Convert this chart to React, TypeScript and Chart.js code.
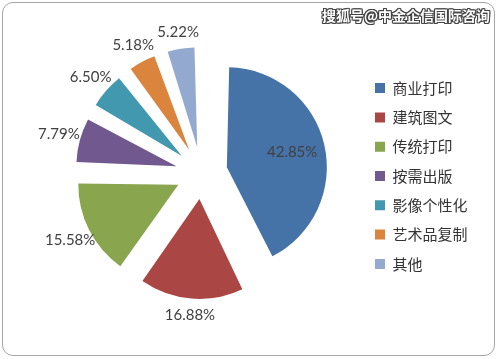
import React, { useEffect, useRef } from "react";
import { Chart, registerables } from "chart.js";

Chart.register(...registerables);

const categories = ["商业打印", "建筑图文", "传统打印", "按需出版", "影像个性化", "艺术品复制", "其他"];
const shares = [42.85, 16.88, 15.58, 7.79, 6.5, 5.18, 5.22];
const colors = ["#4572A7", "#AA4643", "#89A54E", "#71588F", "#4198AF", "#DB843D", "#93A9CF"];
const watermark = "搜狐号@中金企信国际咨询";

const EXPLODE = 26; // px each slice is pulled out
const RADIUS = 100; // drawn slice radius

// Chart.js moves an arc with option offset o by o/4 and enlarges its radius by o/4*fix
// (fix = 1 - sin(c)); trim the element radius so all slices are drawn with RADIUS.
const fixOf = (c: number) => 1 - Math.sin(Math.min(Math.PI, c));

const uniformExplodePlugin = {
  id: "uniformExplode",
  beforeDatasetsDraw(chart: any) {
    const meta = chart.getDatasetMeta(0);
    meta.data.forEach((arc: any) => {
      const q = (arc.options.offset || 0) / 4;
      arc.outerRadius = RADIUS - q * fixOf(arc.circumference);
    });
  },
};

const labelPlugin = {
  id: "sliceLabels",
  afterDatasetsDraw(chart: any) {
    const ctx = chart.ctx;
    const meta = chart.getDatasetMeta(0);
    ctx.save();
    ctx.font = "15px Lato";
    ctx.fillStyle = "#404040";
    ctx.textAlign = "center";
    ctx.textBaseline = "middle";
    meta.data.forEach((arc: any, i: number) => {
      const { x, y, startAngle, endAngle, outerRadius, circumference } = arc.getProps(
        ["x", "y", "startAngle", "endAngle", "outerRadius", "circumference"],
        true
      );
      const mid = (startAngle + endAngle) / 2;
      const q = (arc.options.offset || 0) / 4;
      const R = outerRadius + q * fixOf(circumference);
      const d = i === 0 ? q + R * 0.67 : q + R + 16 + Math.abs(Math.cos(mid)) * 6;
      ctx.fillText(shares[i].toFixed(2) + "%", x + Math.cos(mid) * d, y + Math.sin(mid) * d);
    });
    ctx.restore();
  },
};

const legendShiftPlugin = {
  id: "legendShift",
  afterLayout(chart: any) {
    if (chart.legend) {
      chart.legend.top += 3;
      chart.legend.bottom += 3;
    }
  },
};

export default function App() {
  const canvasRef = useRef<HTMLCanvasElement | null>(null);

  useEffect(() => {
    if (!canvasRef.current) return;
    const chart = new Chart(canvasRef.current, {
      type: "pie",
      data: {
        labels: categories,
        datasets: [
          {
            data: shares,
            backgroundColor: colors,
            borderWidth: 0,
            radius: RADIUS,
            offset: EXPLODE * 4,
          } as any,
        ],
      },
      options: {
        animation: false,
        responsive: false,
        devicePixelRatio: 1,
        layout: { padding: { left: 42.3, right: 21.5, top: 0, bottom: 13 } },
        plugins: {
          legend: {
            position: "right",
            align: "center",
            labels: {
              boxWidth: 10,
              boxHeight: 10,
              padding: 14.3,
              color: "#333333",
              font: { size: 15, family: "'Noto Sans CJK SC', sans-serif" },
            },
          },
          tooltip: { enabled: false },
        },
      } as any,
      plugins: [uniformExplodePlugin, labelPlugin, legendShiftPlugin],
    });
    return () => chart.destroy();
  }, []);

  return (
    <div
      style={{
        position: "fixed",
        left: 0,
        top: 0,
        width: 499,
        height: 359,
        background: "#ffffff",
        overflow: "hidden",
      }}
    >
      <canvas ref={canvasRef} width={499} height={359} style={{ display: "block" }} />
      <div
        style={{
          position: "absolute",
          left: 2,
          top: 2,
          width: 491,
          height: 352,
          border: "1.5px solid #a6a6a6",
          borderRadius: 11,
          pointerEvents: "none",
        }}
      />
      <div
        style={{
          position: "absolute",
          left: 322,
          top: 7,
          font: "bold 14px 'Noto Sans CJK SC', sans-serif",
          lineHeight: "16px",
          color: "#ffffff",
          whiteSpace: "nowrap",
          textShadow:
            "1px 1px 0 #444, -1px -1px 0 #444, 1px -1px 0 #444, -1px 1px 0 #444, 0 1px 0 #444, 0 -1px 0 #444, 1px 0 0 #444, -1px 0 0 #444",
        }}
      >
        {watermark}
      </div>
    </div>
  );
}
